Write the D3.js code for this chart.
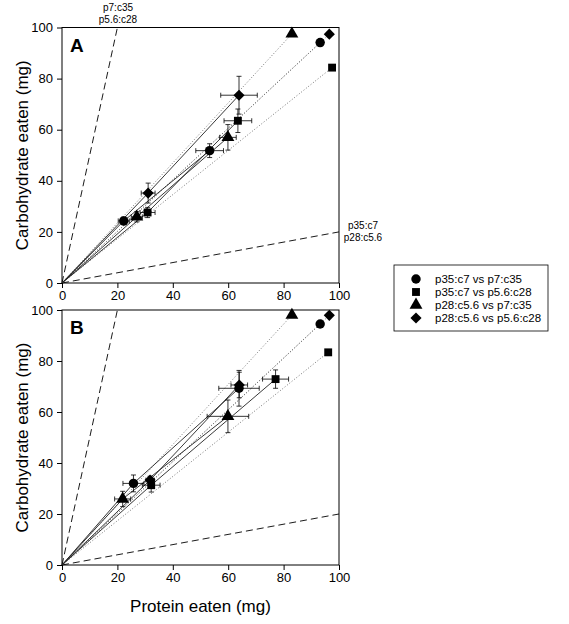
<!DOCTYPE html>
<html>
<head>
<meta charset="utf-8">
<script src="https://cdn.jsdelivr.net/npm/d3@7"></script>
<style>
  body { margin: 0; background: #fff; }
  svg { font-family: "Liberation Sans", Arial, sans-serif; }
  .axis text { font-size: 13px; fill: #000; }
  .axis path, .axis line { stroke: #000; }
</style>
</head>
<body>
<svg width="569" height="624"></svg>
<script>
// legend / series
var seriesNames = ["p35:c7 vs p7:c35", "p35:c7 vs p5.6:c28", "p28:c5.6 vs p7:c35", "p28:c5.6 vs p5.6:c28"];
var seriesSymbols = [d3.symbolCircle, d3.symbolSquare, d3.symbolTriangle, d3.symbolSquare];
var symbolRotate = [0, 0, 0, 45];
var tickValues = [0, 20, 40, 60, 80, 100];

// panel A: two time points per series (protein, carbohydrate, +/- errors)
var protA = [[22.3, 53.3], [30.9, 63.5], [27.0, 59.9], [31.1, 63.9]];
var carbA = [[24.3, 51.8], [27.6, 63.5], [25.9, 57.0], [35.2, 73.5]];
var protErrA = [[2.0, 5.0], [2.7, 5.0], [2.0, 3.0], [2.5, 6.6]];
var carbErrA = [[1.5, 2.7], [2.0, 4.6], [2.0, 5.0], [3.9, 7.4]];
var targetProtA = [93.2, 97.5, 83.0, 96.5];
var targetCarbA = [94.1, 84.3, 97.5, 97.4];

// panel B
var protB = [[25.8, 63.9], [32.2, 77.1], [21.9, 59.9], [31.8, 64.0]];
var carbB = [[32.0, 69.3], [31.3, 72.9], [25.9, 58.3], [33.3, 70.6]];
var protErrB = [[3.8, 7.3], [3.2, 4.7], [2.9, 7.5], [1.5, 3.0]];
var carbErrB = [[3.3, 7.0], [2.7, 3.6], [3.0, 6.4], [1.5, 5.0]];
var targetProtB = [93.2, 96.1, 83.0, 96.5];
var targetCarbB = [94.5, 83.4, 98.0, 97.9];

// rails p7:c35 and p35:c7
var railProt = [20, 100];
var railCarb = [100, 20];

var svg = d3.select("svg");
var x = d3.scaleLinear().domain([0, 100]).range([62, 339]);

var symbolSize = [70, 62, 72, 62];

var symbolTransform = function (i, px, py) {
    return "translate(" + px + "," + py + ")" + (symbolRotate[i] ? " rotate(" + symbolRotate[i] + ")" : "");
};

var drawPanel = function (top, bottom, label, prot, carb, protErr, carbErr, tProt, tCarb) {
    var y = d3.scaleLinear().domain([0, 100]).range([bottom, top]);
    var g = svg.append("g");

    // frame
    g.append("rect")
        .attr("x", x(0)).attr("y", y(100))
        .attr("width", x(100) - x(0)).attr("height", y(0) - y(100))
        .attr("fill", "none").attr("stroke", "#000");

    // rails (dashed)
    railProt.forEach(function (p, i) {
        g.append("line")
            .attr("x1", x(0)).attr("y1", y(0))
            .attr("x2", x(p)).attr("y2", y(railCarb[i]))
            .attr("stroke", "#000").attr("stroke-width", 0.9)
            .attr("stroke-dasharray", "7,4");
    });

    // dotted lines to target points
    tProt.forEach(function (p, i) {
        g.append("line")
            .attr("x1", x(0)).attr("y1", y(0))
            .attr("x2", x(p)).attr("y2", y(tCarb[i]))
            .attr("stroke", "#666").attr("stroke-width", 0.9)
            .attr("stroke-dasharray", "1,2");
    });

    // solid trajectories
    var line = d3.line()
        .x(function (d) { return x(d[0]); })
        .y(function (d) { return y(d[1]); });
    prot.forEach(function (p, i) {
        var pts = [[0, 0]].concat(p.map(function (v, j) { return [v, carb[i][j]]; }));
        g.append("path")
            .attr("d", line(pts))
            .attr("fill", "none").attr("stroke", "#222").attr("stroke-width", 0.9);
    });

    // error bars
    var cap = 2.5;
    prot.forEach(function (p, i) {
        p.forEach(function (v, j) {
            var c = carb[i][j], ex = protErr[i][j], ey = carbErr[i][j];
            var eb = g.append("g").attr("stroke", "#000").attr("stroke-width", 0.8);
            eb.append("line").attr("x1", x(v - ex)).attr("x2", x(v + ex)).attr("y1", y(c)).attr("y2", y(c));
            eb.append("line").attr("x1", x(v - ex)).attr("x2", x(v - ex)).attr("y1", y(c) - cap).attr("y2", y(c) + cap);
            eb.append("line").attr("x1", x(v + ex)).attr("x2", x(v + ex)).attr("y1", y(c) - cap).attr("y2", y(c) + cap);
            eb.append("line").attr("x1", x(v)).attr("x2", x(v)).attr("y1", y(c - ey)).attr("y2", y(c + ey));
            eb.append("line").attr("x1", x(v) - cap).attr("x2", x(v) + cap).attr("y1", y(c - ey)).attr("y2", y(c - ey));
            eb.append("line").attr("x1", x(v) - cap).attr("x2", x(v) + cap).attr("y1", y(c + ey)).attr("y2", y(c + ey));
        });
    });

    // markers
    prot.forEach(function (p, i) {
        var pts = p.map(function (v, j) { return [v, carb[i][j]]; });
        pts.push([tProt[i], tCarb[i]]);
        g.selectAll(null).data(pts).enter().append("path")
            .attr("d", d3.symbol().type(seriesSymbols[i]).size(symbolSize[i]))
            .attr("transform", function (d) { return symbolTransform(i, x(d[0]), y(d[1])); })
            .attr("fill", "#000");
    });

    // axes
    g.append("g")
        .attr("class", "axis")
        .attr("transform", "translate(" + x(0) + ",0)")
        .call(d3.axisLeft(y).tickValues(tickValues).tickSize(5).tickSizeOuter(0).tickPadding(4))
        .select(".domain").remove();
    g.append("g")
        .attr("class", "axis")
        .attr("transform", "translate(0," + y(0) + ")")
        .call(d3.axisBottom(x).tickValues(tickValues).tickSize(5).tickSizeOuter(0).tickPadding(3))
        .select(".domain").remove();

    g.append("text")
        .attr("x", 70).attr("y", top + 24)
        .attr("font-size", 19).attr("font-weight", "bold")
        .text(label);

    g.append("text")
        .attr("transform", "translate(28," + ((top + bottom) / 2) + ") rotate(-90)")
        .attr("text-anchor", "middle")
        .attr("font-size", 17)
        .text("Carbohydrate eaten (mg)");

    return y;
};

drawPanel(27.5, 283, "A", protA, carbA, protErrA, carbErrA, targetProtA, targetCarbA);
drawPanel(310, 565, "B", protB, carbB, protErrB, carbErrB, targetProtB, targetCarbB);

// rail labels
svg.append("g").attr("font-size", 10).attr("text-anchor", "middle")
    .selectAll("text").data(["p7:c35", "p5.6:c28"]).enter().append("text")
    .attr("x", 118).attr("y", function (d, i) { return 11 + i * 12; })
    .text(function (d) { return d; });
svg.append("g").attr("font-size", 10).attr("text-anchor", "middle")
    .selectAll("text").data(["p35:c7", "p28:c5.6"]).enter().append("text")
    .attr("x", 363).attr("y", function (d, i) { return 229 + i * 12; })
    .text(function (d) { return d; });

svg.append("text")
    .attr("x", (x(0) + x(100)) / 2).attr("y", 612)
    .attr("text-anchor", "middle").attr("font-size", 17)
    .text("Protein eaten (mg)");

// legend
var legend = svg.append("g").attr("transform", "translate(394,265)");
legend.append("rect").attr("width", 154).attr("height", 66)
    .attr("fill", "#fff").attr("stroke", "#000").attr("stroke-width", 0.8);
var rows = legend.selectAll("g.row").data(seriesNames).enter().append("g")
    .attr("class", "row")
    .attr("transform", function (d, i) { return "translate(0," + (14 + i * 13) + ")"; });
rows.append("path")
    .attr("d", function (d, i) { return d3.symbol().type(seriesSymbols[i]).size(symbolSize[i])(); })
    .attr("transform", function (d, i) { return symbolTransform(i, 22, 0); })
    .attr("fill", "#000");
rows.append("text")
    .attr("x", 41).attr("dy", "0.35em")
    .attr("font-size", 11.5)
    .text(function (d) { return d; });
</script>
</body>
</html>
